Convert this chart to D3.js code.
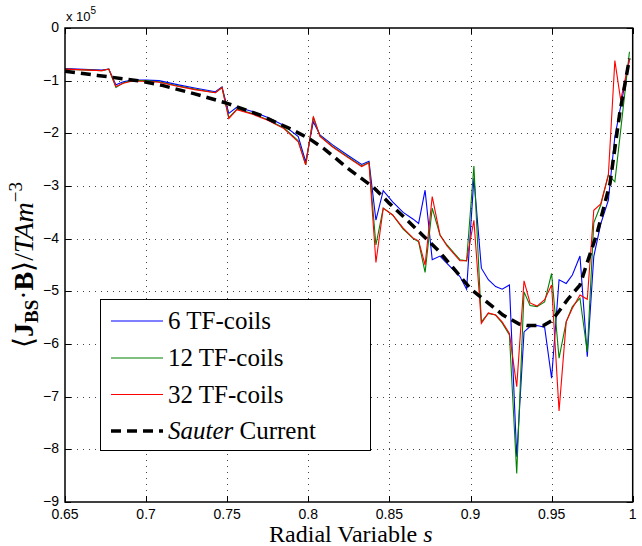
<!DOCTYPE html>
<html>
<head>
<meta charset="utf-8">
<script src="https://cdn.jsdelivr.net/npm/d3@7"></script>
<style>
  body { margin: 0; background: #fff; }
  svg { display: block; }
</style>
</head>
<body>
<div id="chart"></div>
<script>
// radial grid shared by the three TF-coil runs
const sGrid = [0.650, 0.6728, 0.677, 0.6814, 0.686, 0.691, 0.700, 0.708, 0.720, 0.730,
  0.7427, 0.7468, 0.751, 0.756, 0.765, 0.775, 0.785, 0.7938, 0.7984, 0.8031,
  0.8072, 0.815, 0.825, 0.8329, 0.8374, 0.8417, 0.8462, 0.852, 0.8585, 0.8647,
  0.868, 0.872, 0.8764, 0.8812, 0.8855, 0.8935, 0.8976, 0.9021, 0.9067, 0.911,
  0.9155, 0.9195, 0.924, 0.9285, 0.933, 0.9367, 0.941, 0.9457, 0.950, 0.9546,
  0.959, 0.9628, 0.9675, 0.972, 0.976, 0.9803, 0.985, 0.989, 0.9926, 0.998]

// <J_BS.B> in units of 1e5
const coils6 = [-0.77, -0.80, -0.78, -1.08, -1.02, -0.99, -0.99, -1.00, -1.08, -1.14,
  -1.21, -1.12, -1.62, -1.50, -1.58, -1.70, -1.85, -2.06, -2.54, -1.78,
  -2.03, -2.22, -2.43, -2.59, -2.53, -3.65, -3.09, -3.30, -3.50, -3.63,
  -3.71, -3.08, -4.40, -4.33, -4.47, -4.72, -4.96, -2.85, -4.56, -4.78,
  -4.91, -4.96, -4.88, -8.14, -5.77, -5.67, -5.65, -5.68, -6.65, -4.78,
  -4.85, -4.69, -4.33, -6.24, -4.34, -3.72, -3.27, -2.06, -1.49, -0.59]

const coils12 = [-0.78, -0.81, -0.78, -1.13, -1.04, -1.00, -1.00, -1.02, -1.10, -1.16,
  -1.23, -1.13, -1.70, -1.54, -1.62, -1.74, -1.90, -2.14, -2.60, -1.70,
  -2.05, -2.25, -2.46, -2.62, -2.55, -4.12, -3.42, -3.55, -3.82, -4.00,
  -4.06, -4.64, -3.42, -3.93, -4.12, -4.40, -4.42, -2.62, -5.58, -5.42,
  -5.45, -5.60, -5.83, -8.46, -5.01, -5.27, -5.29, -5.20, -4.66, -6.27,
  -5.58, -5.29, -5.13, -6.15, -3.70, -3.36, -2.79, -2.92, -1.94, -0.45]

const coils32 = [-0.78, -0.81, -0.78, -1.11, -1.05, -1.01, -1.01, -1.03, -1.11, -1.17,
  -1.23, -1.13, -1.72, -1.55, -1.63, -1.75, -1.91, -2.16, -2.60, -1.68,
  -2.06, -2.26, -2.47, -2.63, -2.56, -4.45, -3.42, -3.55, -3.80, -3.99,
  -4.04, -4.50, -3.20, -3.93, -4.14, -4.42, -4.42, -3.65, -5.61, -5.41,
  -5.45, -5.58, -5.80, -6.81, -4.80, -5.22, -5.28, -5.16, -4.88, -7.27,
  -5.58, -5.32, -5.07, -5.15, -3.46, -3.34, -2.79, -0.62, -1.37, -0.59]

const sauterS = [0.65, 0.67, 0.695, 0.71, 0.73, 0.75, 0.77, 0.79, 0.80, 0.81,
  0.825, 0.84, 0.85, 0.86, 0.87, 0.88, 0.89, 0.90, 0.91, 0.92,
  0.93, 0.935, 0.945, 0.95, 0.955, 0.96, 0.9675, 0.972, 0.978, 0.986, 0.992, 0.998]
const sauterJ = [-0.82, -0.90, -1.00, -1.09, -1.25, -1.43, -1.65, -1.93, -2.09, -2.30,
  -2.68, -3.02, -3.33, -3.62, -3.92, -4.22, -4.58, -4.95, -5.20, -5.45,
  -5.62, -5.65, -5.65, -5.56, -5.36, -5.15, -4.88, -4.45, -3.90, -2.95, -1.62, -0.58]

const xTicks = [0.65, 0.7, 0.75, 0.8, 0.85, 0.9, 0.95, 1]
const yTicks = [0, -1, -2, -3, -4, -5, -6, -7, -8, -9]
const legendLabels = ["6 TF-coils", "12 TF-coils", "32 TF-coils"]

const W = 642, H = 546
const mL = 65, mR = 632.7, mT = 28, mB = 502

const x = d3.scaleLinear().domain([0.65, 1]).range([mL, mR])
const y = d3.scaleLinear().domain([-9, 0]).range([mB, mT])

const svg = d3.select("#chart").append("svg")
  .attr("width", W).attr("height", H)

// dotted grid
const grid = svg.append("g")
  .attr("stroke", "#444").attr("stroke-width", 1).attr("stroke-dasharray", "1,5")
grid.selectAll("line.v").data(xTicks.slice(1, -1)).join("line")
  .attr("x1", d => Math.round(x(d)) + 0.5).attr("x2", d => Math.round(x(d)) + 0.5)
  .attr("y1", mT).attr("y2", mB)
grid.selectAll("line.h").data(yTicks.slice(1, -1)).join("line")
  .attr("y1", d => Math.round(y(d)) + 0.5).attr("y2", d => Math.round(y(d)) + 0.5)
  .attr("x1", mL).attr("x2", mR)

// tick marks inside, on all four sides
const ticks = svg.append("g").attr("stroke", "#000").attr("stroke-width", 1)
xTicks.forEach(d => {
  const px = Math.round(x(d)) + 0.5
  ticks.append("line").attr("x1", px).attr("x2", px).attr("y1", mB).attr("y2", mB - 6)
  ticks.append("line").attr("x1", px).attr("x2", px).attr("y1", mT).attr("y2", mT + 6)
})
yTicks.forEach(d => {
  const py = Math.round(y(d)) + 0.5
  ticks.append("line").attr("y1", py).attr("y2", py).attr("x1", mL).attr("x2", mL + 6)
  ticks.append("line").attr("y1", py).attr("y2", py).attr("x1", mR).attr("x2", mR - 6)
})

// series
const line = d3.line().x(d => x(d[0])).y(d => y(d[1]))
const series = [
  { vals: coils6, color: "#0000ff" },
  { vals: coils12, color: "#008000" },
  { vals: coils32, color: "#ff0000" }
]
series.forEach(s => {
  svg.append("path")
    .attr("d", line(sGrid.map((v, i) => [v, s.vals[i]])))
    .attr("fill", "none").attr("stroke", s.color).attr("stroke-width", 1.1)
})
svg.append("path")
  .attr("d", line(sauterS.map((v, i) => [v, sauterJ[i]])))
  .attr("fill", "none").attr("stroke", "#000").attr("stroke-width", 3.5)
  .attr("stroke-dasharray", "10,6")

// axis box
svg.append("rect")
  .attr("x", mL).attr("y", mT).attr("width", mR - mL).attr("height", mB - mT)
  .attr("fill", "none").attr("stroke", "#000").attr("stroke-width", 1.5)

// tick labels
const sans = "'Liberation Sans', Arial, sans-serif"
svg.append("g").selectAll("text").data(xTicks).join("text")
  .attr("x", d => x(d)).attr("y", mB + 17)
  .attr("text-anchor", "middle").attr("font-family", sans).attr("font-size", 14)
  .text(d => d)
svg.append("g").selectAll("text").data(yTicks).join("text")
  .attr("x", mL - 6).attr("y", d => y(d) + 4)
  .attr("text-anchor", "end").attr("font-family", sans).attr("font-size", 14)
  .text(d => d === 0 ? "0" : "\u2212" + Math.abs(d))

const expo = svg.append("text").attr("x", mL + 1).attr("y", mT - 7)
  .attr("font-family", sans).attr("font-size", 13)
expo.append("tspan").text("x 10")
expo.append("tspan").attr("font-size", 10).attr("dy", -7).text("5")

// axis labels
const serif = "'Liberation Serif', 'Times New Roman', serif"
const xl = svg.append("text").attr("x", (mL + mR) / 2 + 2).attr("y", 542)
  .attr("text-anchor", "middle").attr("font-family", serif).attr("font-size", 24)
xl.append("tspan").text("Radial Variable ")
xl.append("tspan").attr("font-style", "italic").text("s")

const yl = svg.append("text")
  .attr("transform", `translate(33,${(mT + mB) / 2}) rotate(-90)`)
  .attr("text-anchor", "middle").attr("font-family", serif).attr("font-size", 28)
yl.append("tspan").text("\u27e8")
yl.append("tspan").attr("font-weight", "bold").text("J")
yl.append("tspan").attr("font-weight", "bold").attr("font-size", 19).attr("dy", 5).text("BS")
yl.append("tspan").attr("dy", -5).text("\u00b7")
yl.append("tspan").attr("font-weight", "bold").text("B")
yl.append("tspan").text("\u27e9/")
yl.append("tspan").attr("font-style", "italic").text("TAm")
yl.append("tspan").attr("font-size", 19).attr("dy", -11).text("\u22123")

// legend
const lg = svg.append("g")
lg.append("rect").attr("x", 100.5).attr("y", 299.5).attr("width", 270).attr("height", 151)
  .attr("fill", "#fff").attr("stroke", "#000").attr("stroke-width", 1)
const rowY = [321, 358, 394.5, 431]
series.forEach((s, i) => {
  lg.append("line").attr("x1", 111).attr("x2", 163).attr("y1", rowY[i]).attr("y2", rowY[i])
    .attr("stroke", s.color).attr("stroke-width", 1.1)
  lg.append("text").attr("x", 168).attr("y", rowY[i] + 8)
    .attr("font-family", serif).attr("font-size", 25).text(legendLabels[i])
})
lg.append("line").attr("x1", 111).attr("x2", 163).attr("y1", rowY[3]).attr("y2", rowY[3])
  .attr("stroke", "#000").attr("stroke-width", 3.5).attr("stroke-dasharray", "10,6")
const st = lg.append("text").attr("x", 168).attr("y", rowY[3] + 8)
  .attr("font-family", serif).attr("font-size", 25)
st.append("tspan").attr("font-style", "italic").text("Sauter")
st.append("tspan").text(" Current")
</script>
</body>
</html>
